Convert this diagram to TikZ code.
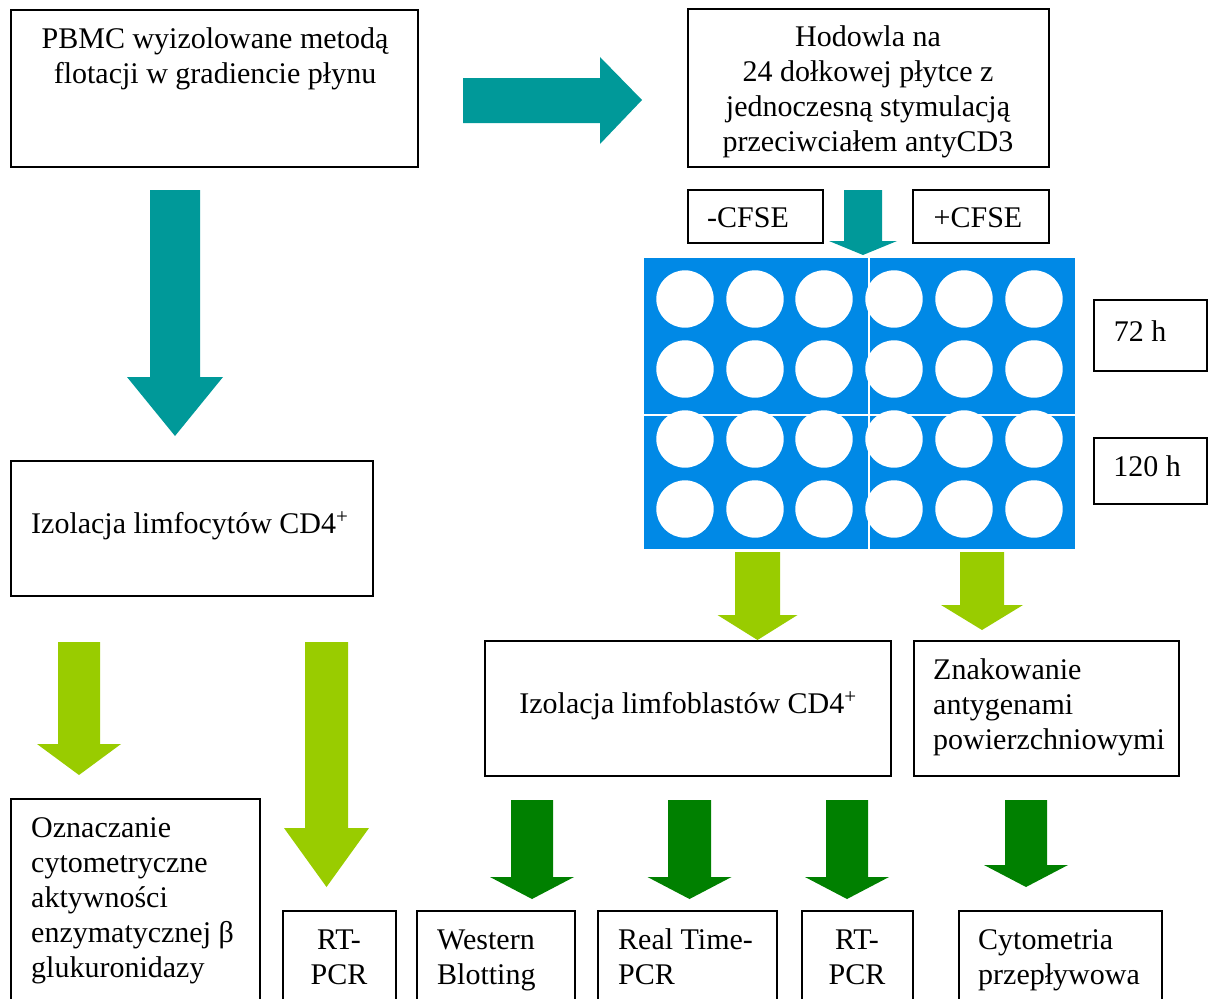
\documentclass[tikz,border=0pt]{standalone}
\usepackage{fontspec}
\setmainfont{Liberation Serif}
\definecolor{teal2}{RGB}{0,153,153}
\definecolor{lgreen}{RGB}{153,204,0}
\definecolor{dgreen}{RGB}{0,128,0}
\definecolor{plate}{RGB}{0,137,230}
\newcommand{\DArr}[7]{% color, cx, top, halfbody, headbase, halfhead, tip
  \fill[#1] (#2-#4,#3) -- (#2+#4,#3) -- (#2+#4,#5) -- (#2+#6,#5) -- (#2,#7) -- (#2-#6,#5) -- (#2-#4,#5) -- cycle;}
\begin{document}
\begin{tikzpicture}[x=1pt,y=-1pt,
  box/.style={draw=black, line width=1.3pt},
  txt/.style={inner sep=0pt, anchor=base, font=\fontsize{30}{35}\selectfont},
  ltxt/.style={txt, anchor=base west, align=left},
  ctxt/.style={txt, align=center}]
\useasboundingbox (0,0) rectangle (1214,998);
\clip (0,0) rectangle (1214,998);
% boxes
\draw[box] (11,10) rectangle (418,167);
\node[ctxt] (pbmc) at (215,83) {PBMC wyizolowane metodą\\flotacji w gradiencie płynu};
\draw[box] (688,9) rectangle (1049,167);
\node[ctxt] (hod) at (868,151) {Hodowla na\\24 dołkowej płytce z\\jednoczesną stymulacją\\przeciwciałem antyCD3};
\draw[box] (688,190) rectangle (823,243);
\node[txt] (mcfse) at (748,227) {-CFSE};
\draw[box] (913,190) rectangle (1049,243);
\node[txt] (pcfse) at (978,227) {+CFSE};
\draw[box] (1094,300) rectangle (1207,371);
\node[txt] (h72) at (1140,341) {72 h};
\draw[box] (1094,438) rectangle (1207,504);
\node[txt] (h120) at (1147,476) {120 h};
\draw[box] (11,461) rectangle (373,596);
\node[ltxt] (izl) at (31,533) {Izolacja limfocytów CD4\textsuperscript{+}};
\draw[box] (485,641) rectangle (891,776);
\node[txt] (izb) at (688,713) {Izolacja limfoblastów CD4\textsuperscript{+}};
\draw[box] (914,641) rectangle (1179,776);
\node[ltxt] (zn) at (933,749) {Znakowanie\\antygenami\\powierzchniowymi};
\draw[box] (11,799) rectangle (260,1010);
\node[ltxt] (ozn) at (31,977) {Oznaczanie\\cytometryczne\\aktywności\\enzymatycznej β\\glukuronidazy};
\draw[box] (283,911) rectangle (396,1010);
\node[ctxt] (rt1) at (339,984) {RT-\\PCR};
\draw[box] (417,911) rectangle (575,1010);
\node[ltxt] (wb) at (437,984) {Western\\Blotting};
\draw[box] (598,911) rectangle (777,1010);
\node[ltxt] (rtp) at (618,984) {Real Time-\\PCR};
\draw[box] (802,911) rectangle (913,1010);
\node[ctxt] (rt2) at (857,984) {RT-\\PCR};
\draw[box] (959,911) rectangle (1162,1010);
\node[ltxt] (cyt) at (978,984) {Cytometria\\przepływowa};
% plate
\fill[plate] (644,258) rectangle (1075,549);
\draw[white, line width=1.5pt] (869,258) -- (869,549);
\draw[white, line width=1.5pt] (644,415) -- (1075,415);
\foreach \cx in {685,755,824,894,964,1034}
  \foreach \cy in {299,369,439,509}
    \fill[white] (\cx,\cy) circle (28.7);
% teal arrows
\fill[teal2] (463,78) -- (600,78) -- (600,57) -- (642,100) -- (600,144) -- (600,123) -- (463,123) -- cycle;
\DArr{teal2}{175}{190}{25}{377}{48}{436}
\DArr{teal2}{863}{190}{19}{241}{34}{255}
% light green arrows
\DArr{lgreen}{757.5}{552}{22.5}{615}{40}{640}
\DArr{lgreen}{982}{552}{22}{605}{41}{630}
\DArr{lgreen}{79}{642}{21}{744}{42}{775}
\DArr{lgreen}{326.5}{642}{21.5}{828}{42.5}{887}
% dark green arrows
\DArr{dgreen}{532}{800}{21}{877}{42}{899}
\DArr{dgreen}{689.5}{800}{21.5}{877}{42}{899}
\DArr{dgreen}{847}{800}{21}{877}{42}{899}
\DArr{dgreen}{1026}{800}{21}{865}{42}{887}
\end{tikzpicture}
\end{document}
